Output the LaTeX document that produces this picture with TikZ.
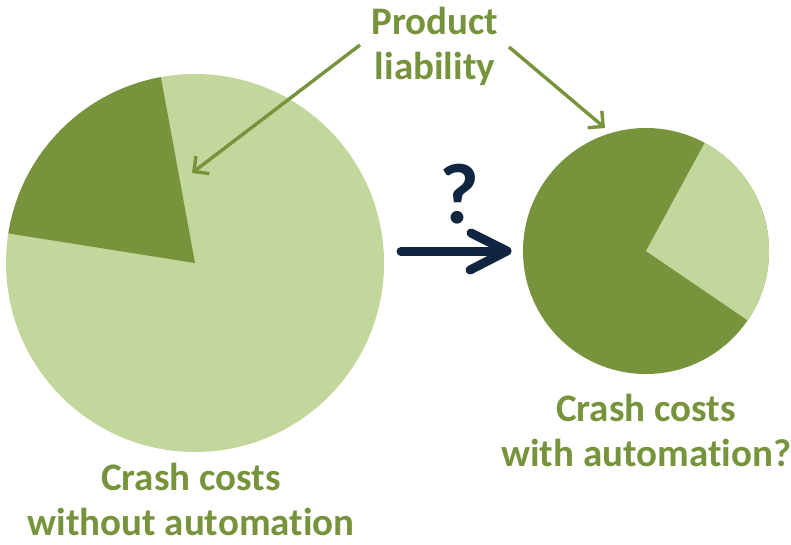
\documentclass[tikz,border=0pt]{standalone}
\usepackage{fontspec}
\setmainfont{Carlito}[Ligatures={NoCommon}]
\usetikzlibrary{arrows.meta}
\definecolor{darkgreen}{HTML}{77933C}
\definecolor{lightgreen}{HTML}{C3D69B}
\definecolor{navy}{HTML}{10253F}
\begin{document}
\begin{tikzpicture}[x=1pt,y=1pt,
  txt/.style={font=\bfseries\fontsize{39}{45}\selectfont, text=darkgreen, align=center, inner sep=0pt},
  pointer/.style={draw=darkgreen, line width=3.4pt, -{Straight Barb[length=11pt,width=22pt]}},
  bigarrow/.style={draw=navy, line width=9pt, line cap=round, line join=round}]
\useasboundingbox (0,0) rectangle (791,544);
% big pie
\coordinate (bc) at (195,281);
\fill[lightgreen] (bc) circle[radius=189];
\fill[darkgreen] (bc) -- ++(100.4:189) arc[start angle=100.4,end angle=171,radius=189] -- cycle;
% small pie
\coordinate (sc) at (646,293);
\fill[darkgreen] (sc) circle[radius=123];
\fill[lightgreen] (sc) -- ++(-34.3:123) arc[start angle=-34.3,end angle=61.5,radius=123] -- cycle;
% labels (base = baseline of last line)
\node[txt, anchor=base] (pl) at (435,464) {Product\\liability};
\node[txt, anchor=base] (wo) at (191,9) {Crash costs\\without automation};
\node[txt, anchor=base] (wa) at (646,78) {Crash costs\\with automation?};
% pointers
\coordinate (plL) at (360,499);
\coordinate (plR) at (509,497);
\coordinate (tB) at (192,371);
\coordinate (tS) at (605,416);
\draw[pointer] (plL) -- (tB);
\draw[pointer] (plR) -- (tS);
% big arrow
\coordinate (aS) at (401,292.5);
\coordinate (aE) at (505,292.5);
\coordinate (hU) at (471,311);
\coordinate (hT) at (507,293);
\coordinate (hL) at (470,274);
\draw[bigarrow] (aS) -- (aE);
\draw[bigarrow] (hU) -- (hT) -- (hL);
\node[font=\bfseries\fontsize{86}{86}\selectfont, text=navy, inner sep=0pt, anchor=base] (q) at (459.5,320) {?};
\end{tikzpicture}
\end{document}
